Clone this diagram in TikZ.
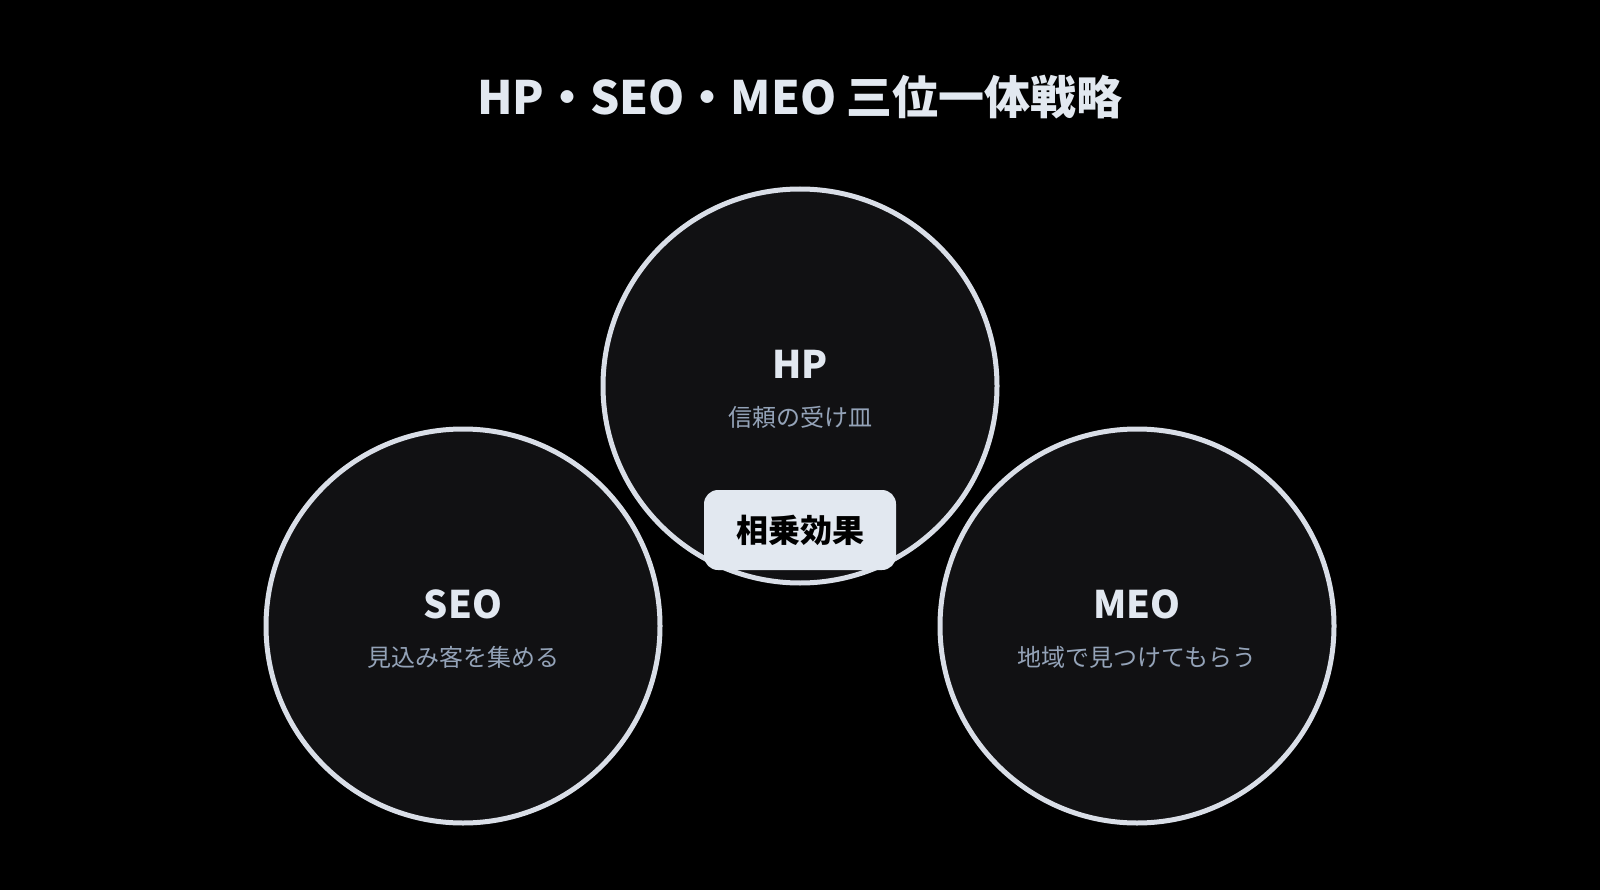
\documentclass[tikz,border=0pt]{standalone}
\usepackage{fontspec}
\setmainfont{Noto Sans CJK JP}
\usetikzlibrary{positioning}
\definecolor{bgdark}{HTML}{000000}
\definecolor{discfill}{HTML}{111113}
\definecolor{ringline}{HTML}{D9DEE7}
\definecolor{titlecol}{HTML}{E2E8F0}
\definecolor{subcol}{HTML}{94A3B8}
\definecolor{badgefill}{HTML}{E2E8F0}

\tikzset{
  disc/.style = {circle, draw = ringline, line width = 5pt, fill = discfill,
                 minimum size = 394pt, inner sep = 0pt},
  headtext/.style = {text = titlecol, font = \fontsize{38}{44}\selectfont\bfseries},
  subtext/.style = {text = subcol, font = \fontsize{24}{29}\selectfont},
}

\begin{document}
\begin{tikzpicture}[x = 1pt, y = -1pt]
\fill[bgdark] (0,0) rectangle (1600,890);
\useasboundingbox (0,0) rectangle (1600,890);
\node[text = titlecol, font = \fontsize{46}{54}\selectfont\bfseries] (title) at (800,97) {HP・SEO・MEO 三位一体戦略};
% the three discs
\node[disc] (hp) at (800,386) {};
\node[disc] (seo) at (463,626) {};
\node[disc] (meo) at (1137,626) {};
\node[headtext] (hplbl) at (800,364) {HP};
\node[subtext] (hpsub) at (800,417) {信頼の受け皿};
\node[headtext] (seolbl) at (463,604) {SEO};
\node[subtext] (seosub) at (463,657) {見込み客を集める};
\node[headtext] (meolbl) at (1137,604) {MEO};
\node[subtext] (meosub) at (1137,657) {地域で見つけてもらう};
% badge on the rim of the HP disc
\node[fill = badgefill, rounded corners = 14pt, minimum width = 192pt, minimum height = 80pt,
      text = black, font = \fontsize{32}{38}\selectfont\bfseries] (synergy) at (800,530) {相乗効果};
\end{tikzpicture}
\end{document}
